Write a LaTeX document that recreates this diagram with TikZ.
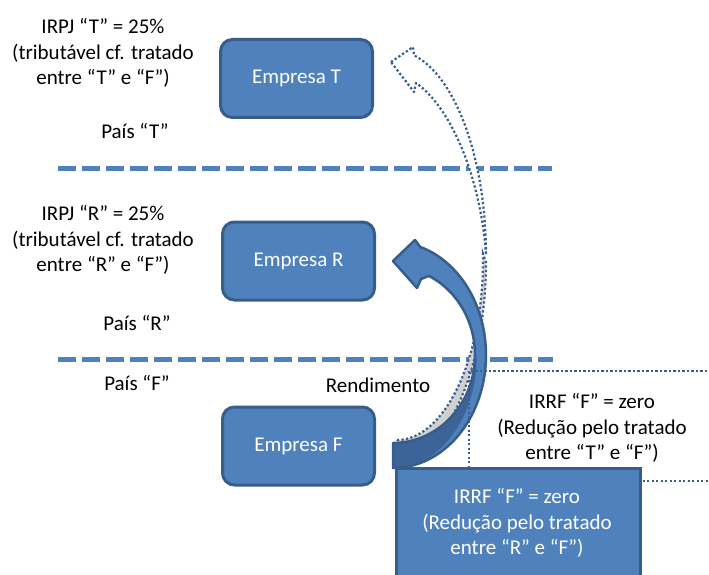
\documentclass[tikz,border=0pt]{standalone}
\usepackage{fontspec}
\setmainfont{Carlito}
\definecolor{accent}{HTML}{4F81BD}
\definecolor{edge}{HTML}{385D8A}
\definecolor{backband}{HTML}{3C6499}
\definecolor{shade}{HTML}{D0D0D0}

% outline of the solid curved arrow (income flow F -> R)
\def\rendarrow{(393,261) -- (415,240) -- (421,248)
  -- plot[domain=-72:90,samples=60,variable=\t] ({393+93*cos(\t)},{355+113*sin(\t)})
  -- (393,443)
  -- plot[domain=90:-64,samples=60,variable=\t] ({393+82*cos(\t)},{355+88*sin(\t)})
  -- (421,279) -- (417,288) -- cycle}

\begin{document}
\begin{tikzpicture}[x=1pt,y=-1pt,
  every node/.style={font=\fontsize{21}{25.5}\selectfont, align=center, inner sep=0pt},
  company/.style={draw=edge, fill=accent, line width=3pt, rounded corners=12pt,
    minimum width=152pt, minimum height=78pt, text=white},
  border/.style={draw=accent, line width=5pt, dash pattern=on 18pt off 6pt},
  dotline/.style={draw=edge, line width=2.2pt, dash pattern=on 2.2pt off 2.3pt},
  treatybox/.style={draw=edge, fill=accent, line width=3pt},
]
\clip (0,0) rectangle (709,575);
\fill[white] (0,0) rectangle (709,575);

% country borders
\coordinate (b1a) at (58,168);  \coordinate (b1b) at (552,168);
\coordinate (b2a) at (58,359);  \coordinate (b2b) at (553,359);
\draw[border] (b1a) -- (b1b);
\draw[border] (b2a) -- (b2b);

% companies
\node[company] (empT) at (296.5,78.5) {Empresa T};
\node[company] (empR) at (298.5,261) {Empresa R};
\node[company] (empF) at (298.5,446) {Empresa F};

% country labels and corporate tax notes
\node (taxT) at (103,53) {IRPJ “T” = 25\%\\(tributável cf. tratado\\entre “T” e “F”)};
\node (paisT) at (135,131) {País “T”};
\node (taxR) at (103,240) {IRPJ “R” = 25\%\\(tributável cf. tratado\\entre “R” e “F”)};
\node (paisR) at (137,323) {País “R”};
\node (paisF) at (137,383) {País “F”};
\node (rend) at (378,385) {Rendimento};

% dotted curved arrow (flow F -> T): shaded back band
\draw[dotline, fill=shade]
  plot[domain=90:-2,samples=50,variable=\t] ({397+86*cos(\t)},{260+180*sin(\t)})
  -- plot[domain=0:85,samples=50,variable=\t] ({393+93*cos(\t)},{262+200*sin(\t)})
  -- cycle;
% dotted curved arrow: front face with head
\draw[dotline, fill=white, line join=round]
  (391,62) -- (413,47) -- (414,55)
  -- plot[domain=-77:0,samples=50,variable=\t] ({393+93*cos(\t)},{255+205*sin(\t)})
  .. controls (481,180) and (452,108) .. (416,83) -- (414,92) -- cycle;

% solid curved arrow (flow F -> R)
\fill[accent] \rendarrow;
\fill[backband]
  plot[domain=90:-10,samples=50,variable=\t] ({393+82*cos(\t)},{355+88*sin(\t)})
  .. controls (486,385) and (455,468) .. (393,468) -- cycle;
\draw[edge, line width=2.5pt, line join=round] \rendarrow;

% withholding tax note under treaty T-F (dotted frame)
\draw[dotline] (469,371) rectangle (730,481);
\node (irrfT) at (592,428) {IRRF “F” = zero\\(Redução pelo tratado\\entre “T” e “F”)};

% withholding tax note under treaty R-F
\node[treatybox, anchor=north west, minimum width=244pt, minimum height=140pt] (boxR) at (394.5,466.5) {};
\node[text=white] (irrfR) at (517,523) {IRRF “F” = zero\\(Redução pelo tratado\\entre “R” e “F”)};
\end{tikzpicture}
\end{document}
